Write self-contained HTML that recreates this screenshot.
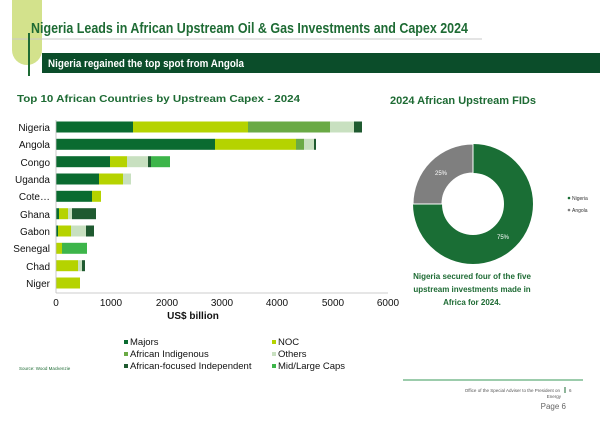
<!DOCTYPE html>
<html><head><meta charset="utf-8"><style>
html,body{margin:0;padding:0;background:#fff;}
svg{display:block;font-family:"Liberation Sans",sans-serif;}
</style></head><body>
<svg width="600" height="424" viewBox="0 0 600 424" xmlns="http://www.w3.org/2000/svg">
<rect x="0" y="0" width="600" height="424" fill="#fff"/>
<path d="M12 0 H42 V50 A15 15 0 0 1 27 65 A15 15 0 0 1 12 50 Z" fill="#d3e28c"/>
<line x1="12" y1="39" x2="482" y2="39" stroke="#c8c8c8" stroke-width="1"/>
<text x="31" y="33" font-size="14.5" font-weight="bold" fill="#1e6b34" textLength="437" lengthAdjust="spacingAndGlyphs">Nigeria Leads in African Upstream Oil &amp; Gas Investments and Capex 2024</text>
<rect x="42" y="53" width="558" height="20" fill="#0b4d2a"/>
<text x="48" y="67" font-size="11" font-weight="bold" fill="#fff" textLength="196" lengthAdjust="spacingAndGlyphs">Nigeria regained the top spot from Angola</text>
<line x1="29" y1="33" x2="29" y2="76" stroke="#1e6b34" stroke-width="2"/>
<text x="17" y="102" font-size="10.5" font-weight="bold" fill="#1e6b34" textLength="283" lengthAdjust="spacingAndGlyphs">Top 10 African Countries by Upstream Capex - 2024</text>
<text x="390" y="104" font-size="11" font-weight="bold" fill="#1e6b34" textLength="146" lengthAdjust="spacingAndGlyphs">2024 African Upstream FIDs</text>

<g font-size="10" fill="#111" text-anchor="end">
<text x="50" y="131">Nigeria</text>
<text x="50" y="148">Angola</text>
<text x="50" y="166">Congo</text>
<text x="50" y="183">Uganda</text>
<text x="50" y="200">Cote…</text>
<text x="50" y="218">Ghana</text>
<text x="50" y="235">Gabon</text>
<text x="50" y="252">Senegal</text>
<text x="50" y="270">Chad</text>
<text x="50" y="287">Niger</text>
</g>
<g>
<rect x="56" y="121.5" width="77" height="11" fill="#0a6b30"/>
<rect x="133" y="121.5" width="115" height="11" fill="#b5d300"/>
<rect x="248" y="121.5" width="82" height="11" fill="#6aaa45"/>
<rect x="330" y="121.5" width="24" height="11" fill="#c8e0c0"/>
<rect x="354" y="121.5" width="8" height="11" fill="#1f5a30"/>
<rect x="56" y="138.8" width="159" height="11" fill="#0a6b30"/>
<rect x="215" y="138.8" width="81" height="11" fill="#b5d300"/>
<rect x="296" y="138.8" width="8" height="11" fill="#6aaa45"/>
<rect x="304" y="138.8" width="10" height="11" fill="#c8e0c0"/>
<rect x="314" y="138.8" width="2" height="11" fill="#1f5a30"/>
<rect x="56" y="156.2" width="54" height="11" fill="#0a6b30"/>
<rect x="110" y="156.2" width="17" height="11" fill="#b5d300"/>
<rect x="127" y="156.2" width="21" height="11" fill="#c8e0c0"/>
<rect x="148" y="156.2" width="3" height="11" fill="#1f5a30"/>
<rect x="151" y="156.2" width="19" height="11" fill="#3db54a"/>
<rect x="56" y="173.5" width="43" height="11" fill="#0a6b30"/>
<rect x="99" y="173.5" width="24" height="11" fill="#b5d300"/>
<rect x="123" y="173.5" width="8" height="11" fill="#c8e0c0"/>
<rect x="56" y="190.8" width="36" height="11" fill="#0a6b30"/>
<rect x="92" y="190.8" width="9" height="11" fill="#b5d300"/>
<rect x="56" y="208.2" width="3" height="11" fill="#0a6b30"/>
<rect x="59" y="208.2" width="9" height="11" fill="#b5d300"/>
<rect x="68" y="208.2" width="4" height="11" fill="#c8e0c0"/>
<rect x="72" y="208.2" width="24" height="11" fill="#1f5a30"/>
<rect x="56" y="225.5" width="2" height="11" fill="#0a6b30"/>
<rect x="58" y="225.5" width="13" height="11" fill="#b5d300"/>
<rect x="71" y="225.5" width="15" height="11" fill="#c8e0c0"/>
<rect x="86" y="225.5" width="8" height="11" fill="#1f5a30"/>
<rect x="56" y="242.8" width="6" height="11" fill="#b5d300"/>
<rect x="62" y="242.8" width="25" height="11" fill="#3db54a"/>
<rect x="56" y="260.2" width="22" height="11" fill="#b5d300"/>
<rect x="78" y="260.2" width="4" height="11" fill="#c8e0c0"/>
<rect x="82" y="260.2" width="3" height="11" fill="#1f5a30"/>
<rect x="56" y="277.5" width="24" height="11" fill="#b5d300"/>
</g>
<line x1="56" y1="120" x2="56" y2="293" stroke="#bbb" stroke-width="0.8"/>
<line x1="56" y1="293" x2="388" y2="293" stroke="#bbb" stroke-width="0.8"/>
<g font-size="10" fill="#111" text-anchor="middle">
<text x="56" y="306">0</text><text x="111" y="306">1000</text><text x="167" y="306">2000</text>
<text x="222" y="306">3000</text><text x="277" y="306">4000</text><text x="333" y="306">5000</text><text x="388" y="306">6000</text>
<text x="193" y="319" font-weight="bold">US$ billion</text>
</g>
<g font-size="9.5" fill="#111">
<rect x="124" y="340" width="4" height="4" fill="#0a6b30"/><text x="130" y="345">Majors</text>
<rect x="124" y="352" width="4" height="4" fill="#6aaa45"/><text x="130" y="357">African Indigenous</text>
<rect x="124" y="364" width="4" height="4" fill="#1f5a30"/><text x="130" y="369">African-focused Independent</text>
<rect x="272" y="340" width="4" height="4" fill="#b5d300"/><text x="278" y="345">NOC</text>
<rect x="272" y="352" width="4" height="4" fill="#c8e0c0"/><text x="278" y="357">Others</text>
<rect x="272" y="364" width="4" height="4" fill="#3db54a"/><text x="278" y="369">Mid/Large Caps</text>
</g>
<text x="19" y="370" font-size="4.5" fill="#1e6b34">Source: Wood Mackenzie</text>

<circle cx="473" cy="204" r="45.5" fill="none" stroke="#1a6e35" stroke-width="29"/>
<path d="M473 144 A60 60 0 0 0 413 204 L442 204 A31 31 0 0 1 473 173 Z" fill="#7f7f7f" stroke="#fff" stroke-width="1"/>
<text x="441" y="175" font-size="6" fill="#fff" text-anchor="middle">25%</text>
<text x="503" y="239" font-size="6" fill="#fff" text-anchor="middle">75%</text>
<circle cx="569" cy="198" r="1.3" fill="#1a6e35"/><text x="572" y="200" font-size="5" fill="#333">Nigeria</text>
<circle cx="569" cy="210" r="1.3" fill="#7f7f7f"/><text x="572" y="212" font-size="5" fill="#333">Angola</text>
<g font-size="8" font-weight="bold" fill="#1e6b34" text-anchor="middle">
<text x="472" y="279">Nigeria secured four of the five</text>
<text x="472" y="292">upstream investments made in</text>
<text x="472" y="305">Africa for 2024.</text>
</g>

<line x1="403" y1="380" x2="583" y2="380" stroke="#3a9a5a" stroke-width="1"/>
<text x="560" y="392" font-size="4.5" fill="#555" text-anchor="end">Office of the Special Adviser to the President on</text>
<text x="561" y="398" font-size="4.5" fill="#555" text-anchor="end">Energy</text>
<line x1="565" y1="387" x2="565" y2="393" stroke="#1e6b34" stroke-width="1"/>
<text x="569" y="392" font-size="4.5" fill="#555">6</text>
<text x="566" y="409" font-size="8" fill="#666" text-anchor="end">Page 6</text>
</svg>
</body></html>
